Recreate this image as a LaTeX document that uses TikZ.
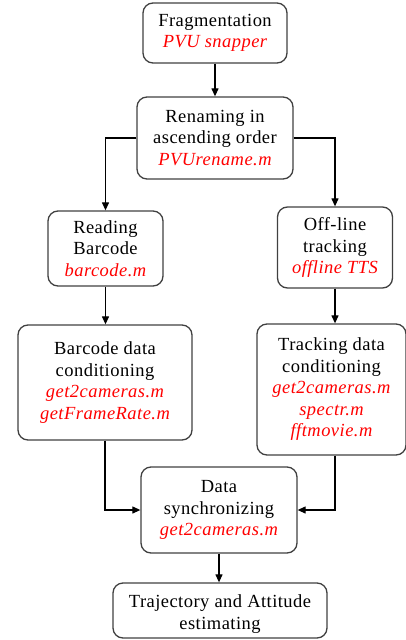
\documentclass[tikz,border=0pt]{standalone}
\usepackage{fontspec}
\setmainfont{Liberation Serif}[ItalicFont={Liberation Serif Italic}, LetterSpace=2.5]
\usetikzlibrary{arrows.meta}
\newcommand\redcode[1]{\textcolor{red}{\itshape #1}}
\begin{document}
\begin{tikzpicture}[x=1pt,y=-1pt,
  box/.style={draw=black!75, line width=1.3pt, rounded corners=10pt, align=center,
    inner sep=0pt, font=\fontsize{18.5}{21.5}\selectfont},
  txt/.style={align=center, inner sep=0pt, font=\fontsize{18.5}{21.5}\selectfont},
  conn/.style={draw=black, line width=1.2pt, -{Triangle[length=8pt,width=7pt]}}]
\useasboundingbox (0,0) rectangle (406,640);
\clip (0,0) rectangle (406,640);

\node[box, minimum width=144pt, minimum height=60pt] (b1) at (215,33)
  {Fragmentation\\\redcode{PVU snapper}};
\node[box, minimum width=156pt, minimum height=82pt] (b2) at (215,138)
  {Renaming in\\ascending order\\\redcode{PVUrename.m}};
\node[box, minimum width=115pt, minimum height=75pt] (b3) at (105.5,248.5)
  {Reading\\Barcode\\\redcode{barcode.m}};
\node[box, minimum width=115pt, minimum height=81pt] (b4) at (335,247.5)
  {Off-line\\tracking\\\redcode{offline TTS}};
\node[box, minimum width=174pt, minimum height=115pt] (b5) at (105,382.5)
  {Barcode data\\conditioning\\\redcode{get2cameras.m}\\\redcode{getFrameRate.m}};
\node[box, minimum width=149pt, minimum height=131pt] (b6) at (331.5,389.5)
  {Tracking data\\conditioning\\\redcode{get2cameras.m}\\\redcode{spectr.m}\\\redcode{fftmovie.m}};
\node[box, minimum width=156pt, minimum height=86pt] (b7) at (219,510)
  {Data\\synchronizing\\\redcode{get2cameras.m}};
\node[box, minimum width=214pt, minimum height=55pt] (b8) at (220,610.5) {};
\node[txt] (t8) at (220,614) {Trajectory and Attitude\\estimating};

\draw[conn] (b1.south) -- (b1.south |- b2.north);
\draw[conn] (b2.west) -| (b3.north);
\draw[conn] (b2.east) -| (b4.north);
\draw[conn] (b3.south) -- (b3.south |- b5.north);
\draw[conn] (b4.south) -- (b4.south |- b6.north);
\draw[conn] (b5.south) |- (b7.west);
\draw[conn] (b4.south |- b6.south) |- (b7.east);
\draw[conn] (b7.south) -- (b7.south |- b8.north);
\end{tikzpicture}
\end{document}
